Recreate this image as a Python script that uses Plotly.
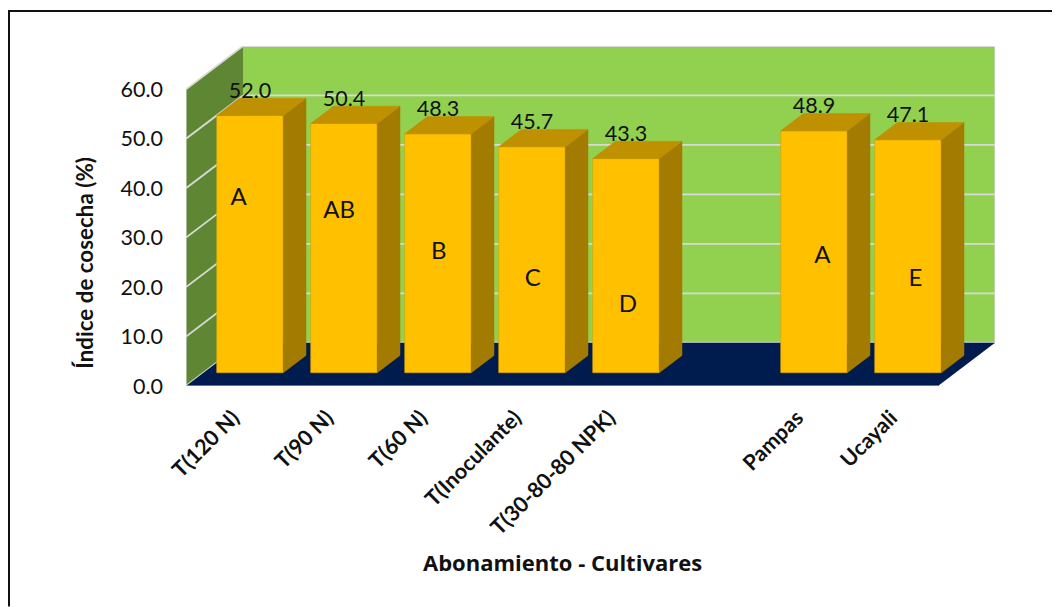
import plotly.graph_objects as go

categories = ["T(120 N)", "T(90 N)", "T(60 N)", "T(Inoculante)", "T(30-80-80 NPK)", "", "Pampas", "Ucayali"]
values = [52.0, 50.4, 48.3, 45.7, 43.3, None, 48.9, 47.1]
letters = ["A", "AB", "B", "C", "D", None, "A", "E"]
letter_x = [0.56, 1.63, 2.69, 3.69, 4.70, None, 6.77, 7.76]
letter_y = [37.9, 35.1, 26.9, 21.4, 16.2, None, 26.0, 21.4]
y_ticks = [0, 10, 20, 30, 40, 50, 60]

FONT = "Lato"
PX_X, PX_Y = 94.0, 4.95
W, H = 1052, 599
ML, MT = 178, 38
PW, PH = 809, 340.3
WALL_DX, WALL_DY = 57 / PX_X, 43.3 / PX_Y
OFF_X, OFF_Y = 17 / PX_X, 13.3 / PX_Y
BAR_W = 66.6 / PX_X
BAR_DX, BAR_DY = 22.7 / PX_X, 17.3 / PX_Y
N = len(categories)
YMAX = 60

def poly(pts, fill, layer="below", line=None):
    path = "M " + " L ".join(f"{x},{y}" for x, y in pts) + " Z"
    return dict(type="path", path=path, xref="x", yref="y", fillcolor=fill, layer=layer,
                line=dict(width=1 if line else 0, color=line or "rgba(0,0,0,0)"))

def seg(a, b, color="#D9D9D9", width=1.8):
    return dict(type="line", xref="x", yref="y", x0=a[0], y0=a[1], x1=b[0], y1=b[1],
                layer="below", line=dict(color=color, width=width))

shapes = [
    poly([(0, 0), (WALL_DX, WALL_DY), (WALL_DX, YMAX + WALL_DY), (0, YMAX)], "#5F8733"),
    poly([(WALL_DX, WALL_DY), (N + WALL_DX, WALL_DY), (N + WALL_DX, YMAX + WALL_DY), (WALL_DX, YMAX + WALL_DY)], "#92D050"),
]
for t in y_ticks:
    shapes.append(seg((0, t), (WALL_DX, t + WALL_DY)))
    shapes.append(seg((WALL_DX, t + WALL_DY), (N + WALL_DX, t + WALL_DY)))
shapes.append(poly([(0, 0), (N, 0), (N + WALL_DX, WALL_DY), (WALL_DX, WALL_DY)], "#001B4D"))
shapes.append(seg((0, 0), (N, 0), "#C5CBD6", 1.2))
shapes.append(seg((0, 0), (0, YMAX), "#D9D9D9", 1.2))
shapes.append(seg((N + WALL_DX, WALL_DY), (N + WALL_DX, YMAX + WALL_DY), "#D9D9D9", 1.2))
# chart frame: left and top only
fx = lambda px: (px - ML) / PW
fy = lambda py: 1 - (py - MT) / PH
shapes.append(dict(type="line", xref="paper", yref="paper", x0=fx(1), x1=fx(1), y0=fy(3), y1=fy(H), layer="above",
                   line=dict(color="#111111", width=2)))
shapes.append(dict(type="line", xref="paper", yref="paper", x0=fx(0), x1=fx(W), y0=fy(3), y1=fy(3), layer="above",
                   line=dict(color="#111111", width=2)))

fig = go.Figure()
idx = [i for i, v in enumerate(values) if v is not None]
centers = [i + 0.5 + OFF_X for i in idx]
vals = [values[i] for i in idx]

fig.add_trace(go.Bar(x=centers, y=vals, base=OFF_Y, width=BAR_W, marker=dict(color="#FFC000", line=dict(color="#D9A300", width=0.6)),
                     hoverinfo="skip", showlegend=False))
for c, v in zip(centers, vals):
    l, r = c - BAR_W / 2, c + BAR_W / 2
    top = v + OFF_Y
    fig.add_trace(go.Scatter(x=[r, r + BAR_DX, r + BAR_DX, r, r], y=[OFF_Y, OFF_Y + BAR_DY, top + BAR_DY, top, OFF_Y],
                             mode="lines", fill="toself", fillcolor="#A37B00", line=dict(color="#A37B00", width=0.5),
                             hoverinfo="skip", showlegend=False))
    fig.add_trace(go.Scatter(x=[l, r, r + BAR_DX, l + BAR_DX, l], y=[top, top, top + BAR_DY, top + BAR_DY, top],
                             mode="lines", fill="toself", fillcolor="#BF9000", line=dict(color="#BF9000", width=0.5),
                             hoverinfo="skip", showlegend=False))

fig.add_trace(go.Scatter(x=centers, y=[v + OFF_Y + BAR_DY - 1.0 for v in vals], mode="text",
                         text=[f"{v:.1f}" for v in vals], textposition="top center",
                         textfont=dict(family=FONT, size=21.5, color="#111111"), hoverinfo="skip", showlegend=False))
fig.add_trace(go.Scatter(x=[letter_x[i] for i in idx], y=[letter_y[i] for i in idx], mode="text",
                         text=[letters[i] for i in idx], textposition="middle center",
                         textfont=dict(family=FONT, size=24, color="#111111"), hoverinfo="skip", showlegend=False))

fig.update_layout(
    width=W, height=H, autosize=False,
    margin=dict(l=ML, t=MT, r=W - ML - PW, b=H - MT - PH, pad=0),
    paper_bgcolor="white", plot_bgcolor="rgba(0,0,0,0)",
    showlegend=False, shapes=shapes,
    annotations=[
        dict(text="<b>Índice de cosecha (%)</b>", xref="paper", yref="paper", x=fx(77), y=fy(255),
             xanchor="center", yanchor="middle", showarrow=False, textangle=-90,
             font=dict(family=FONT, size=22.4, color="#111111")),
        dict(text="<b>Abonamiento - Cultivares</b>", xref="paper", yref="paper", x=fx(554), y=fy(554),
             xanchor="center", yanchor="middle", showarrow=False,
             font=dict(family="Open Sans", size=22, color="#111111")),
    ],
    xaxis=dict(range=[0, PW / PX_X], tickmode="array", tickvals=[i + 0.5 for i in idx],
               ticktext=[categories[i] for i in idx], tickangle=-45, showgrid=False, zeroline=False,
               showline=False, ticks="", ticklabelstandoff=14, tickfont=dict(family=FONT, size=21.5, color="#111111", weight="bold")),
    yaxis=dict(range=[0, YMAX + WALL_DY], tickmode="array", tickvals=y_ticks, tickformat=".1f",
               showgrid=False, zeroline=False, showline=False, ticks="", ticklabelstandoff=22,
               tickfont=dict(family=FONT, size=21.5, color="#111111")),
)
fig.write_html("out.html")
